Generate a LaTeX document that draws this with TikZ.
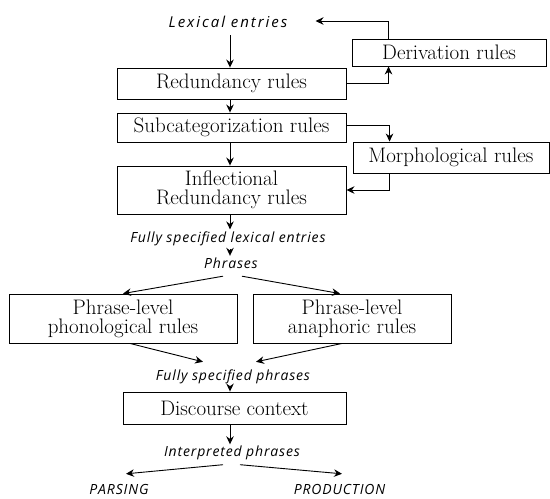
\documentclass[tikz,border=0pt]{standalone}
\usepackage{fontspec}
\newfontfamily\lab{Open Sans}[LetterSpace=6]
\newfontfamily\labwide{Open Sans}[LetterSpace=13]
\usetikzlibrary{arrows.meta}
\begin{document}
\begin{tikzpicture}[x=1pt,y=-1pt,
 box/.style={draw, line width=0.9pt, inner sep=0pt, align=center, font=\fontsize{21}{19}\selectfont},
 lbl/.style={inner sep=0pt, text height=11pt, text depth=3pt, font=\labwide\itshape\fontsize{15}{17}\selectfont},
 slbl/.style={lbl, font=\lab\itshape\fontsize{14}{16}\selectfont},
 arr/.style={line width=0.9pt, -{Stealth[length=8pt,width=7.5pt]}}]
\useasboundingbox (0,0) rectangle (550,499);
% nodes
\node[lbl] (lex) at (228,23) {Lexical entries};
\node[box, minimum width=194pt, minimum height=27pt] (deriv) at (449,52.5) {Derivation rules};
\node[box, minimum width=229pt, minimum height=31pt] (red) at (231.5,83.5) {Redundancy rules};
\node[box, minimum width=229pt, minimum height=29pt] (subcat) at (231.5,127.5) {Subcategorization rules};
\node[box, minimum width=196pt, minimum height=31pt] (morph) at (451,157.5) {Morphological rules};
\node[box, minimum width=229pt, minimum height=48pt] (infl) at (231.5,190) {Inflectional\\Redundancy rules};
\node[slbl] (fsle) at (228,238.6) {Fully specified lexical entries};
\node[slbl] (phrases) at (231,264) {Phrases};
\node[box, minimum width=228pt, minimum height=49pt] (phon) at (123,318.5) {Phrase-level\\phonological rules};
\node[box, minimum width=198pt, minimum height=49pt] (anaph) at (352,318.5) {Phrase-level\\anaphoric rules};
\node[slbl] (fsp) at (233,376) {Fully specified phrases};
\node[box, minimum width=223pt, minimum height=32pt] (disc) at (234.5,408) {Discourse context};
\node[slbl] (interp) at (232,452.5) {Interpreted phrases};
\node[slbl] (parsing) at (119,490) {PARSING};
\node[slbl] (production) at (339.5,490) {PRODUCTION};
% connectors
\draw[arr] ([xshift=2pt,yshift=-5pt]lex.south) -- ([xshift=-1.5pt]red.north);
\draw[arr] ([xshift=37pt]deriv.north west) |- ([xshift=28pt,yshift=2pt]lex.east);
\draw[arr] (red.east) -| ([xshift=37pt]deriv.south west);
\draw[arr] ([xshift=-1.5pt]red.south) -- ([xshift=-1.5pt]subcat.north);
\draw[arr] ([yshift=2pt]subcat.east) -| ([xshift=37pt]morph.north west);
\draw[arr] ([xshift=-1.5pt]subcat.south) -- ([xshift=-1.5pt]infl.north);
\draw[arr] ([xshift=37pt]morph.south west) |- (infl.east);
\draw[arr] ([xshift=-1.5pt]infl.south) -- ([xshift=2pt,yshift=2pt]fsle.north);
\draw[arr] ([xshift=2pt,yshift=-3pt]fsle.south) -- ([xshift=-1pt,yshift=1pt]phrases.north);
\draw[arr] ([xshift=-8pt,yshift=-5pt]phrases.south) -- (phon.north);
\draw[arr] ([xshift=11pt,yshift=-5pt]phrases.south) -- ([xshift=-12pt]anaph.north);
\draw[arr] ([xshift=7pt]phon.south) -- ([xshift=-30pt,yshift=7pt]fsp.north);
\draw[arr] ([xshift=-10pt]anaph.south) -- ([xshift=23pt,yshift=7pt]fsp.north);
\draw[arr] ([xshift=-3pt,yshift=-3pt]fsp.south) -- ([xshift=-4.5pt]disc.north);
\draw[arr] ([xshift=-4.5pt]disc.south) -- ([xshift=-2pt,yshift=1pt]interp.north);
\draw[arr] ([xshift=-9pt,yshift=-5pt]interp.south) -- ([xshift=7pt,yshift=9pt]parsing.north);
\draw[arr] ([xshift=8pt,yshift=-5pt]interp.south) -- ([xshift=2.5pt,yshift=9pt]production.north);
\end{tikzpicture}
\end{document}
